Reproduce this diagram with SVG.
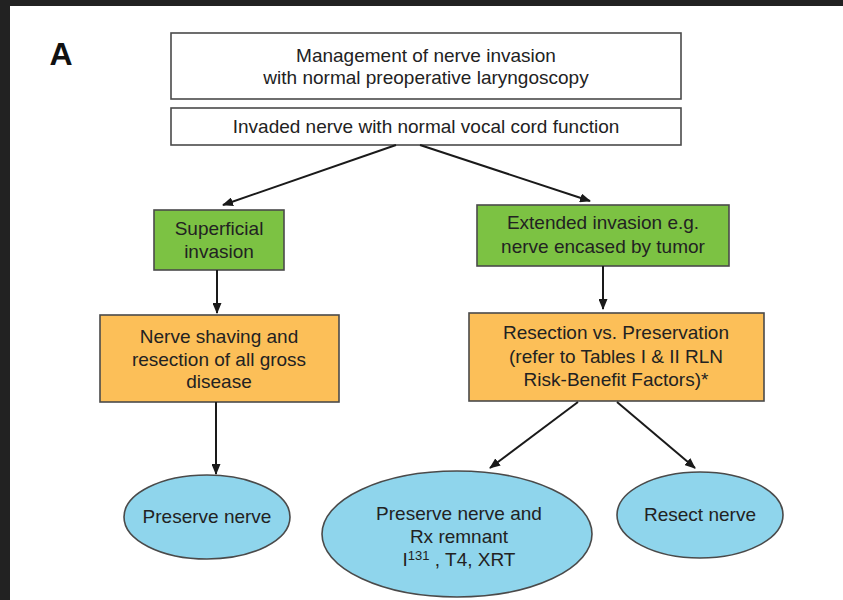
<svg xmlns="http://www.w3.org/2000/svg" width="843" height="600" viewBox="0 0 843 600">
<defs>
<marker id="ah" markerWidth="11" markerHeight="9" refX="10" refY="4.5" orient="auto" markerUnits="userSpaceOnUse">
<path d="M0,0 L11,4.5 L0,9 z" fill="#1a1a1a"/>
</marker>
<style>
text{font-family:"Liberation Sans",Arial,Helvetica,sans-serif;font-size:19px;fill:#222;text-anchor:middle}
.box{stroke:#4a4a4a;stroke-width:1.6}
.w{fill:#fff}
.g{fill:#7cc243}
.o{fill:#fcbf58}
.b{fill:#8fd5ec}
.c line{stroke:#1a1a1a;stroke-width:2;marker-end:url(#ah)}
</style>
</defs>
<rect width="843" height="600" fill="#fff"/>
<rect x="0" y="0" width="843" height="6" fill="#222"/>
<rect x="0" y="0" width="10" height="600" fill="#222"/>
<text x="61" y="65" style="font-size:32px;font-weight:bold;fill:#111">A</text>

<g id="n-title">
<rect class="box w" x="171" y="33" width="510" height="66"/>
<text x="426" y="62">Management of nerve invasion</text>
<text x="426" y="84">with normal preoperative laryngoscopy</text>
</g>
<g id="n-invaded">
<rect class="box w" x="171" y="108" width="510" height="37"/>
<text x="426" y="133">Invaded nerve with normal vocal cord function</text>
</g>
<g id="n-superficial">
<rect class="box g" x="154" y="210" width="130" height="60"/>
<text x="219" y="235">Superficial</text>
<text x="219" y="258">invasion</text>
</g>
<g id="n-extended">
<rect class="box g" x="477" y="205" width="252" height="61"/>
<text x="603" y="229">Extended invasion e.g.</text>
<text x="603" y="253">nerve encased by tumor</text>
</g>
<g id="n-shaving">
<rect class="box o" x="100" y="315" width="239" height="87"/>
<text x="219" y="343">Nerve shaving and</text>
<text x="219" y="366">resection of all gross</text>
<text x="219" y="388">disease</text>
</g>
<g id="n-resection">
<rect class="box o" x="469" y="313" width="295" height="88"/>
<text x="616" y="339">Resection vs. Preservation</text>
<text x="616" y="363">(refer to Tables I &amp; II RLN</text>
<text x="616" y="386">Risk-Benefit Factors)*</text>
</g>
<g id="n-preserve">
<ellipse class="box b" cx="207" cy="517" rx="83" ry="42"/>
<text x="207" y="523">Preserve nerve</text>
</g>
<g id="n-preserve-rx">
<ellipse class="box b" cx="457" cy="534" rx="135" ry="63"/>
<text x="459" y="520">Preserve nerve and</text>
<text x="459" y="543">Rx remnant</text>
<text x="459" y="566">I<tspan dy="-6" style="font-size:13px">131</tspan><tspan dy="6"> , T4, XRT</tspan></text>
</g>
<g id="n-resect">
<ellipse class="box b" cx="700" cy="515" rx="83" ry="43"/>
<text x="700" y="521">Resect nerve</text>
</g>
<g class="c" id="connectors">
<line x1="396" y1="145" x2="223" y2="205"/>
<line x1="420" y1="145" x2="590" y2="201"/>
<line x1="217" y1="270" x2="217" y2="313"/>
<line x1="603" y1="266" x2="603" y2="309"/>
<line x1="216" y1="402" x2="216" y2="474"/>
<line x1="578" y1="402" x2="490" y2="468"/>
<line x1="617" y1="402" x2="695" y2="468"/>
</g>
</svg>
